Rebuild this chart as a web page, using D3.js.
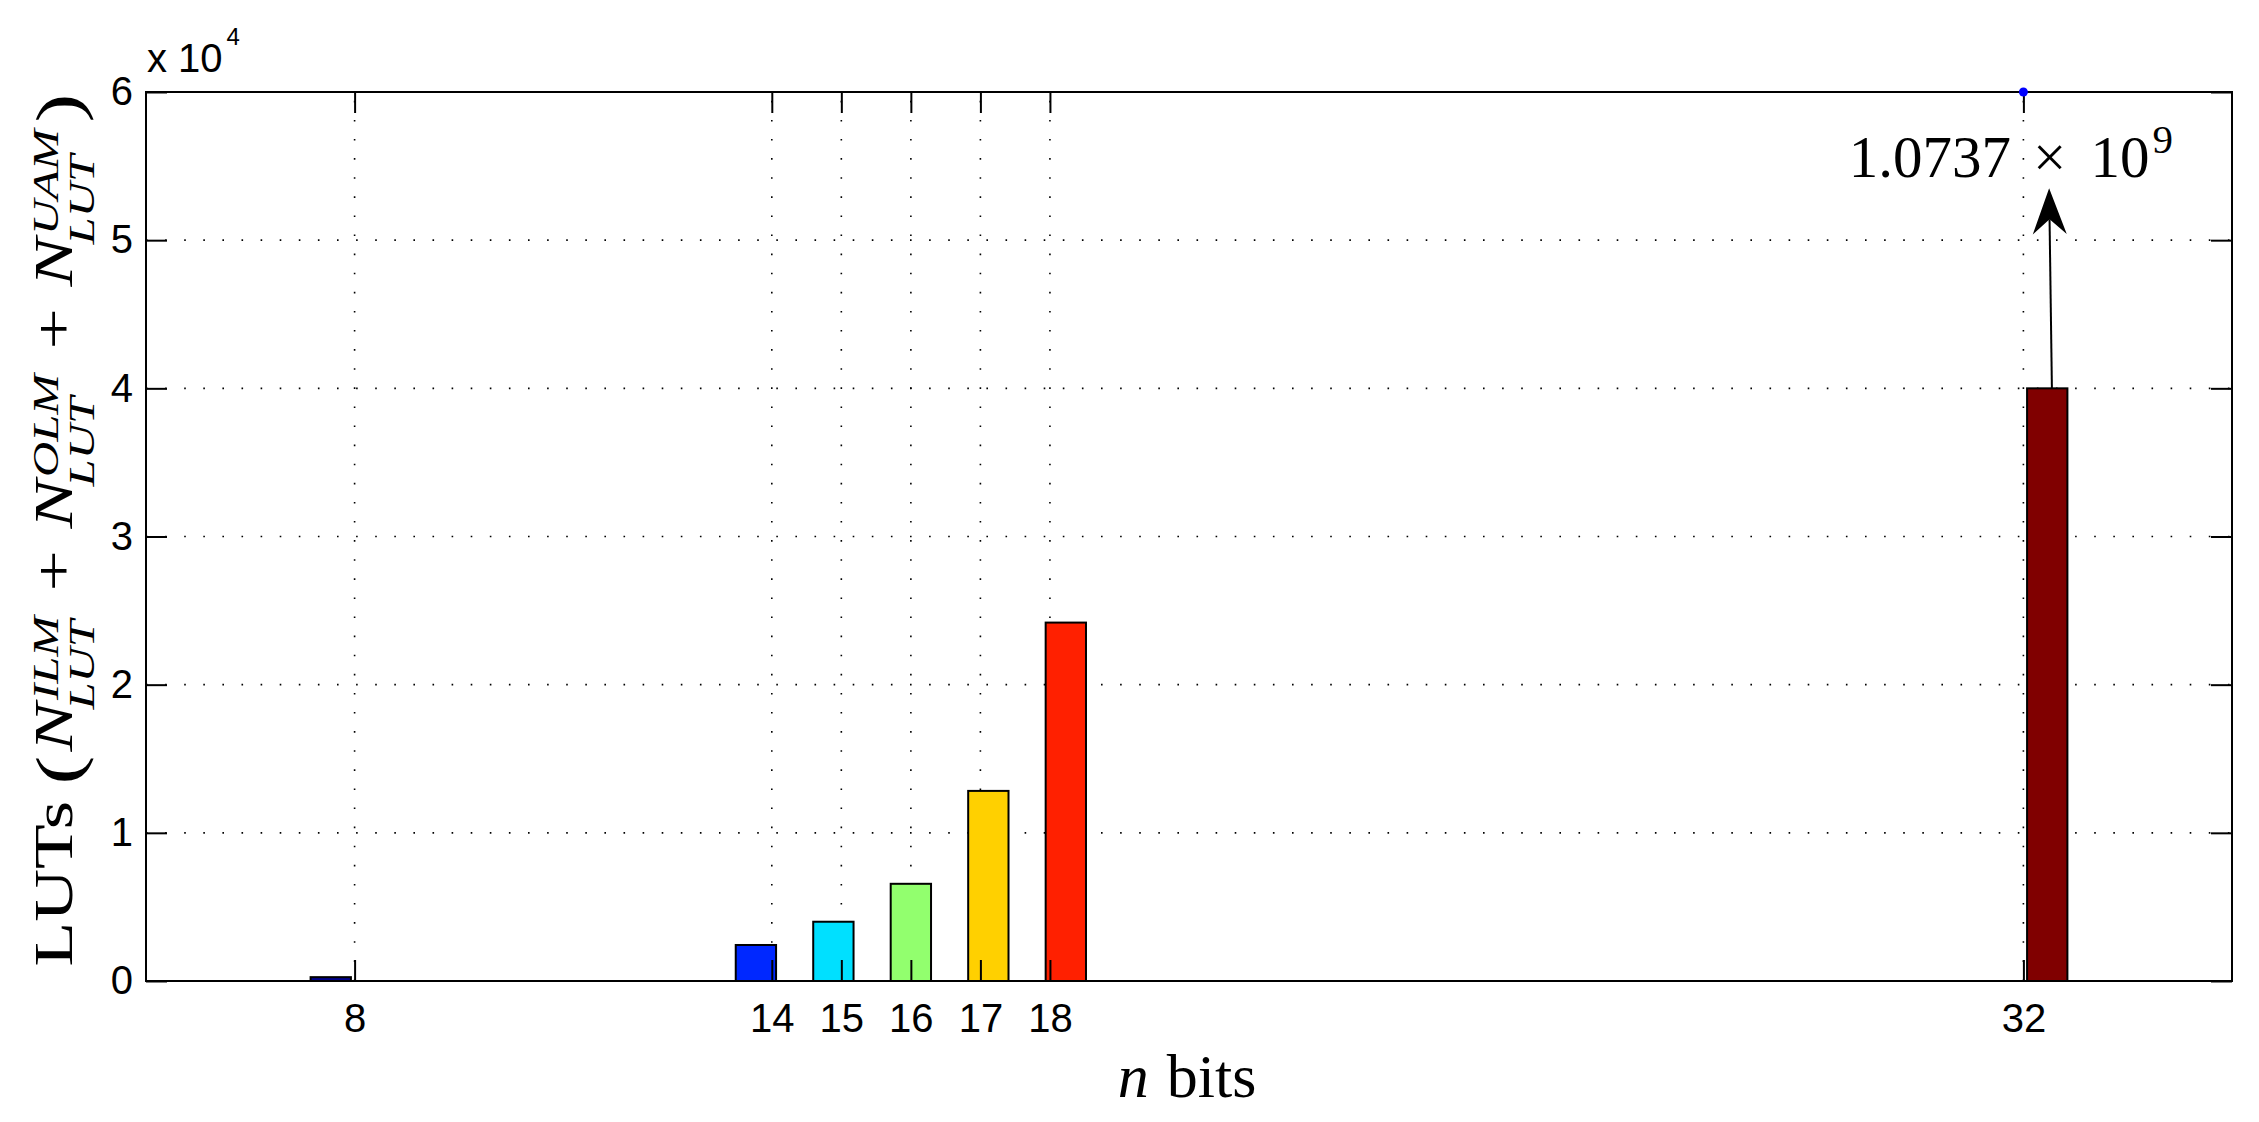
<!DOCTYPE html>
<html><head><meta charset="utf-8">
<script src="https://cdn.jsdelivr.net/npm/d3@7"></script>
<style>html,body{margin:0;padding:0;background:#fff;} svg{display:block;}</style>
</head><body>
<svg id="chart" width="2259" height="1122"></svg>
<script>
// ---- data ----
const nBits = [8, 14, 15, 16, 17, 18, 32];
const lutCounts = [260, 2430, 4000, 6560, 12830, 24190, 40000];
const barColors = ["#00008c", "#0028ff", "#00e0ff", "#92ff6e", "#ffd000", "#ff2000", "#800000"];
const xTicks = [8, 14, 15, 16, 17, 18, 32];
const yTicks = [0, 10000, 20000, 30000, 40000, 50000, 60000];
const yExponent = 4;
const annotationMantissa = "1.0737";
const annotationExponent = "9";
const annotationTextAt = {x: 29.49, y: 54260};
const annotationArrow = {x1: 32.41, y1: 40000, x2: 32.37, y2: 53500};
const markerPoint = {x: 32, y: 60000};
const xDomain = [5, 35];
const yDomain = [0, 60000];

// ---- layout ----
const L = 146, R = 2232, T = 92, B = 981;
const svg = d3.select("#chart");
const x = d3.scaleLinear().domain(xDomain).range([L, R]);
const y = d3.scaleLinear().domain(yDomain).range([B, T]);
const sans = "'Liberation Sans', Arial, Helvetica, sans-serif";
const serif = "'Liberation Serif', 'Times New Roman', serif";

// grid
const grid = svg.append("g").attr("stroke", "#000").attr("stroke-width", 1.6)
  .attr("stroke-dasharray", "1.6 17.5").attr("fill", "none");
grid.selectAll(".gy").data(yTicks.filter(v => v > yDomain[0] && v < yDomain[1])).enter()
  .append("line").attr("x1", L).attr("x2", R).attr("y1", d => y(d)).attr("y2", d => y(d));
grid.selectAll(".gx").data(xTicks).enter()
  .append("line").attr("x1", d => x(d)).attr("x2", d => x(d)).attr("y1", B).attr("y2", T);

// bars (grouped layout: each series offset within its group)
const nSeries = nBits.length;
const groupWidth = 0.8;
const barW = 0.58;
const off = i => (i - (nSeries - 1) / 2) * groupWidth / nSeries;
svg.append("g").selectAll("rect").data(nBits).enter().append("rect")
  .attr("x", (d, i) => x(d + off(i) - barW / 2))
  .attr("width", (d, i) => x(d + off(i) + barW / 2) - x(d + off(i) - barW / 2))
  .attr("y", (d, i) => y(lutCounts[i]))
  .attr("height", (d, i) => y(0) - y(lutCounts[i]))
  .attr("fill", (d, i) => barColors[i])
  .attr("stroke", "#000").attr("stroke-width", 2);

// axes
const tk = 21;
const styleAxis = g => {
  g.select(".domain").remove();
  g.selectAll(".tick line").attr("stroke", "#000").attr("stroke-width", 2);
  g.selectAll(".tick text").attr("font-family", sans).attr("font-size", 40).attr("fill", "#000");
};
svg.append("g").attr("transform", `translate(0,${B})`)
  .call(d3.axisBottom(x).tickValues(xTicks).tickSize(-tk).tickPadding(23).tickFormat(d3.format("d")))
  .call(styleAxis);
svg.append("g").attr("transform", `translate(0,${T})`)
  .call(d3.axisTop(x).tickValues(xTicks).tickSize(-tk).tickFormat(""))
  .call(styleAxis);
svg.append("g").attr("transform", `translate(${L},0)`)
  .call(d3.axisLeft(y).tickValues(yTicks).tickSize(-tk).tickPadding(13).tickFormat(d => d / Math.pow(10, yExponent)))
  .call(styleAxis);
svg.append("g").attr("transform", `translate(${R},0)`)
  .call(d3.axisRight(y).tickValues(yTicks).tickSize(-tk).tickFormat(""))
  .call(styleAxis);
// box
svg.append("rect").attr("x", L).attr("y", T).attr("width", R - L).attr("height", B - T)
  .attr("fill", "none").attr("stroke", "#000").attr("stroke-width", 2);

// exponent label
const ex = svg.append("text").attr("x", L + 1).attr("y", 72)
  .attr("font-family", sans).attr("font-size", 40).attr("fill", "#000");
ex.append("tspan").text("x 10");
ex.append("tspan").attr("font-size", 24).attr("dx", 4).attr("dy", -27).text(String(yExponent));

// x label
const xl = svg.append("text").attr("x", (L + R) / 2 - 2).attr("y", 1097).attr("text-anchor", "middle")
  .attr("font-family", serif).attr("font-size", 62).attr("fill", "#000");
xl.append("tspan").attr("font-style", "italic").text("n");
xl.append("tspan").attr("dx", 18).text("bits");

// y label (math layout, rotated)
const yLabelParts = [
  {t: "LUTs", kind: "rm"},
  {t: "(", kind: "paren"},
  {t: "N", kind: "it", sup: "ILM", sub: "LUT"},
  {t: "+", kind: "op"},
  {t: "N", kind: "it", sup: "OLM", sub: "LUT"},
  {t: "+", kind: "op"},
  {t: "N", kind: "it", sup: "UAM", sub: "LUT"},
  {t: ")", kind: "paren"}
];
const yl = svg.append("g");
const inner = yl.append("g");
let cx = 0;
const mainSize = 54, scriptSize = 36, parenSize = 64;
const addT = (txt, size, italic, dy, px) => {
  const t = inner.append("text").attr("x", px).attr("y", dy).attr("font-family", serif)
    .attr("font-size", size).attr("font-style", italic ? "italic" : "normal").attr("fill", "#000").text(txt);
  return t.node().getComputedTextLength();
};
yLabelParts.forEach(p => {
  if (p.kind === "rm") { cx += addT(p.t, mainSize, false, 0, cx) + 12; }
  else if (p.kind === "paren") { if (p.t === ")") cx += 3; cx += addT(p.t, parenSize, false, 8, cx) + 3; }
  else if (p.kind === "op") { cx += 16; cx += addT(p.t, mainSize, false, 0, cx) + 16; }
  else {
    const wN = addT(p.t, mainSize, true, 0, cx);
    const wSup = addT(p.sup, scriptSize, true, -14, cx + wN + 2);
    const wSub = addT(p.sub, scriptSize, true, 22, cx + wN - 5);
    cx += wN + Math.max(wSup + 2, wSub - 5) + 2;
  }
});
const targetLen = 877, yMid = 528;
inner.attr("transform", `scale(${targetLen / cx},1) translate(${-cx / 2},0)`);
yl.attr("transform", `translate(72,${yMid}) rotate(-90)`);

// marker
svg.append("circle").attr("cx", x(markerPoint.x)).attr("cy", y(markerPoint.y)).attr("r", 4.5).attr("fill", "#0000ff");

// annotation arrow
const ax1 = x(annotationArrow.x1), ay1 = y(annotationArrow.y1), ax2 = x(annotationArrow.x2), ay2 = y(annotationArrow.y2);
const len = Math.hypot(ax2 - ax1, ay2 - ay1), ux = (ax2 - ax1) / len, uy = (ay2 - ay1) / len;
const headL = 46, headW = 17, notch = 31;
svg.append("line").attr("x1", ax1).attr("y1", ay1)
  .attr("x2", ax2 - ux * notch).attr("y2", ay2 - uy * notch)
  .attr("stroke", "#000").attr("stroke-width", 2);
const bx = ax2 - ux * headL, by = ay2 - uy * headL;
svg.append("path").attr("d",
  `M${ax2},${ay2} L${bx - uy * headW},${by + ux * headW} L${ax2 - ux * notch},${ay2 - uy * notch} L${bx + uy * headW},${by - ux * headW} Z`)
  .attr("fill", "#000");

// annotation text
const at = svg.append("text").attr("x", x(annotationTextAt.x)).attr("y", y(annotationTextAt.y))
  .attr("font-family", serif).attr("font-size", 59).attr("fill", "#000");
at.append("tspan").text(annotationMantissa);
at.append("tspan").attr("dx", 22).text("\u00d7");
at.append("tspan").attr("dx", 24).text("10");
at.append("tspan").attr("font-size", 41).attr("dx", 3).attr("dy", -24).text(annotationExponent);
</script>
</body></html>
